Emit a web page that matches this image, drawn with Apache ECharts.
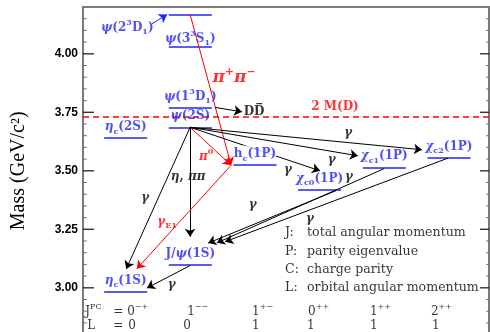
<!DOCTYPE html>
<html><head><meta charset="utf-8">
<script src="https://cdn.jsdelivr.net/npm/echarts@6/dist/echarts.min.js"></script>
<style>html,body{margin:0;padding:0;background:#fff}#c{width:490px;height:332px}</style>
</head><body><div id="c"></div>
<script>
// ---------------- DATA ----------------
// quantum-number columns
const jpcBase = ['0', '1', '1', '0', '1', '2'];
const jpcSup = ['\u2212+', '\u2212\u2212', '+\u2212', '++', '++', '++'];
const orbitalL = ['0', '0', '1', '1', '1', '1'];
// charmonium levels (column index, mass in GeV/c^2)
const levelText = [
  '{g|\u03b7}{sub|c}{b|(1S)}',
  '{b|J/}{g|\u03c8}{b|(1S)}',
  '{g|\u03b7}{sub|c}{b|(2S)}',
  '{g|\u03c8}{b|(2S)}',
  '{g|\u03c8}{b|(1}{sup|3}{b|D}{sub|1}{b|)}',
  '{g|\u03c8}{b|(3}{sup|3}{b|S}{sub|1}{b|)}',
  '',
  '{b|h}{sub|c}{b|(1P)}',
  '{g|\u03c7}{sub|c0}{b|(1P)}',
  '{g|\u03c7}{sub|c1}{b|(1P)}',
  '{g|\u03c7}{sub|c2}{b|(1P)}'
];
const levelColumn = [0, 1, 0, 1, 1, 1, 1, 2, 3, 4, 5];
const levelMass = [2.984, 3.097, 3.640, 3.686, 3.771, 4.030, 4.168, 3.525, 3.420, 3.515, 3.556];
// y axis tick labels (major) and minor tick step
const yTicks = [3.00, 3.25, 3.50, 3.75, 4.00];
const yMinorStep = 0.05;
// D Dbar threshold
const threshold2MD = 3.730;
// transitions: start and end [column units, mass]
const transFrom = [
  [0.405, 4.128], [0.997, 4.168], [1.383, 3.771], [0.997, 3.686], [0.997, 3.686],
  [0.997, 3.686], [1.631, 3.524], [0.997, 3.686], [0.997, 3.686], [0.997, 3.686],
  [3.253, 3.415], [3.995, 3.509], [4.985, 3.554], [0.997, 3.095]
];
const transTo = [
  [0.641, 4.168], [1.631, 3.524], [1.800, 3.752], [0.008, 3.080], [0.997, 3.218],
  [1.631, 3.524], [0.173, 3.081], [3.006, 3.500], [3.593, 3.564], [4.583, 3.590],
  [1.275, 3.191], [1.410, 3.192], [1.538, 3.197], [0.328, 2.999]
];
const transKind = ['label', 'had', 'black', 'black', 'black', 'had', 'had', 'black', 'black', 'black', 'black', 'black', 'black', 'black'];
// transition annotations
const annText = [
  '{g|\u03c8}{b|(2}{sup|3}{b|D}{sub|1}{b|)}',
  '{g|\u03c0}{sup|+}{g|\u03c0}{sup|\u2212}',
  '{g|\u03c0}{sup|0}',
  '{g|\u03b7}{b|, }{g|\u03c0\u03c0}',
  '{g|\u03b3}',
  '{g|\u03b3}{sub|E1}',
  '{g|\u03b3}', '{g|\u03b3}', '{g|\u03b3}', '{g|\u03b3}', '{g|\u03b3}', '{g|\u03b3}', '{g|\u03b3}',
  '{b|2 M(D)}',
  '{b|DD\u0305}'
];
const annKind = ['level', 'bigred', 'red', 'black', 'black', 'red', 'black', 'black', 'black', 'black', 'black', 'black', 'black', 'red', 'black'];
const annPos = [
  [0.025, 4.112], [1.677, 3.897], [1.244, 3.560], [0.966, 3.474], [0.301, 3.385], [0.641, 3.282],
  [2.512, 3.504], [3.187, 3.547], [3.444, 3.661], [1.966, 3.355], [3.454, 3.474], [2.852, 3.295], [0.714, 3.013],
  [3.238, 3.774], [1.986, 3.752]
];
const legendKey = ['J:', 'P:', 'C:', 'L:'];
const legendDesc = ['total angular momentum', 'parity eigenvalue', 'charge parity', 'orbital angular momentum'];

// ---------------- LAYOUT / STYLE ----------------
const BLUE = '#2424f0', RED = '#ff0000', AXC = '#7a7a7a';
const FAM = 'DejaVu Serif';
const X_MIN = -0.66, X_MAX = 5.62, Y_TOP = 4.2, Y_LOW = 2.8;
const PX_PER_COL = 64.7, PX_PER_GEV = 234;
function rich(color, size, bold) {
  const w = bold ? 'bold' : 'normal';
  const s2 = Math.round(size * 0.66);
  return {
    b: {fontFamily: FAM, fontWeight: w, fontSize: size, color: color, lineHeight: size + 5},
    g: {fontFamily: FAM, fontWeight: w, fontStyle: 'italic', fontSize: size, color: color, lineHeight: size + 5},
    n: {fontFamily: FAM, fontSize: size, color: color, lineHeight: size + 5},
    sub: {fontFamily: FAM, fontWeight: w, fontSize: s2, color: color, lineHeight: s2 + 2, verticalAlign: 'bottom'},
    sup: {fontFamily: FAM, fontWeight: w, fontSize: s2, color: color, lineHeight: s2 + 2, verticalAlign: 'top'},
    k: {fontFamily: FAM, fontSize: size, color: color, lineHeight: size + 5, width: 22}
  };
}
const HALF = 0.333;          // half width of a level bar (column units)
const LABEL_UP = 0.047;      // level label offset above bar (GeV)
const legendX = 2.465, legendM = [3.235, 3.155, 3.077, 3.000];
const row1M = 2.897, row2M = 2.838;
const jpcX = [0.023, 0.951, 1.955, 2.821, 3.779, 4.722];
const lX = [0.039, 0.889, 1.955, 2.805, 3.779, 4.737];

const levelLines = levelMass.map((m, i) => ({coords: [[levelColumn[i] - HALF, m], [levelColumn[i] + HALF, m]]}));
const transLines = transFrom.map((f, i) => ({
  coords: [f, transTo[i]],
  lineStyle: {color: transKind[i] === 'label' ? BLUE : (transKind[i] === 'had' ? RED : '#000'), width: 1}
}));

// inward tick marks on both frame sides, drawn as thin rect symbols
const tickPts = [];
const nMinor = Math.round((Y_TOP - Y_LOW) / yMinorStep);
for (let k = 1; k < nMinor; k++) {
  const v = +(Y_LOW + k * yMinorStep).toFixed(3);
  const major = yTicks.some(t => Math.abs(t - v) < 1e-6);
  const lenL = major ? 11 : 4, lenR = major ? 9 : 3;
  const col = major ? '#000' : '#555', th = major ? 1.4 : 1;
  tickPts.push({value: [X_MIN + lenL / 2 / PX_PER_COL, v], symbolSize: [lenL, th], itemStyle: {color: col}});
  tickPts.push({value: [X_MAX - lenR / 2 / PX_PER_COL, v], symbolSize: [lenR, th], itemStyle: {color: col}});
}

const textPts = [];
levelText.forEach((t, i) => {
  if (!t) return;
  const up = (i === 5) ? 0.034 : LABEL_UP;
  textPts.push({value: [levelColumn[i], levelMass[i] + up], label: {formatter: t, rich: rich(BLUE, 12, true), position: 'inside',
    backgroundColor: i === 7 ? '#fff' : 'transparent'}});
});
annText.forEach((t, i) => {
  const k = annKind[i];
  const r = k === 'level' ? rich(BLUE, 12, true) : k === 'bigred' ? rich(RED, 17, true) : k === 'red' ? rich(RED, 12, true) : rich('#000', 12, true);
  textPts.push({value: annPos[i], label: {formatter: t, rich: r, position: 'inside'}});
});
legendKey.forEach((k, i) => {
  textPts.push({value: [legendX, legendM[i]], label: {formatter: '{k|' + k + '}{n|' + legendDesc[i] + '}', rich: rich('#000', 12.6, false), position: 'right', distance: 0}});
});
textPts.push({value: [-0.626, row1M], label: {formatter: '{n|J}{sup|PC}', rich: rich('#000', 12, false), position: 'right', distance: 0}});
textPts.push({value: [-0.193, row1M], label: {formatter: '{n|=}', rich: rich('#000', 12, false), position: 'right', distance: 0}});
textPts.push({value: [-0.596, row2M], label: {formatter: '{n|L}', rich: rich('#000', 12, false), position: 'right', distance: 0}});
textPts.push({value: [-0.193, row2M], label: {formatter: '{n|=}', rich: rich('#000', 12, false), position: 'right', distance: 0}});
jpcBase.forEach((b, i) => {
  textPts.push({value: [jpcX[i], row1M], label: {formatter: '{n|' + b + '}{sup|' + jpcSup[i] + '}', rich: rich('#000', 12, false), position: 'right', distance: 0}});
  textPts.push({value: [lX[i], row2M], label: {formatter: '{n|' + orbitalL[i] + '}', rich: rich('#000', 12, false), position: 'right', distance: 0}});
});

const chart = echarts.init(document.getElementById('c'));
chart.setOption({
  animation: false,
  backgroundColor: '#fff',
  grid: {left: 83, right: 1, top: 7, height: (Y_TOP - Y_LOW) * PX_PER_GEV, outerBoundsMode: 'none'},
  xAxis: {type: 'value', min: X_MIN, max: X_MAX, position: 'top',
    axisLine: {show: true, onZero: false, lineStyle: {color: AXC, width: 2}},
    axisTick: {show: false}, axisLabel: {show: false}, splitLine: {show: false}},
  yAxis: [
    {type: 'value', min: Y_LOW, max: Y_TOP, position: 'left', splitLine: {show: false},
      axisLine: {show: true, onZero: false, lineStyle: {color: AXC, width: 2}},
      axisTick: {show: false},
      axisLabel: {show: true, customValues: yTicks, margin: 5, formatter: v => v.toFixed(2),
        fontFamily: 'Liberation Sans', fontSize: 12, fontWeight: 'bold', color: '#000'},
      name: 'Mass (GeV/c\u00b2)', nameLocation: 'middle', nameRotate: 90, nameGap: 54,
      nameTextStyle: {fontFamily: 'Liberation Serif', fontSize: 20, color: '#000'}},
    {type: 'value', min: Y_LOW, max: Y_TOP, position: 'right', splitLine: {show: false},
      axisLine: {show: true, onZero: false, lineStyle: {color: AXC, width: 2}},
      axisTick: {show: false}, axisLabel: {show: false}}
  ],
  series: [
    {type: 'scatter', symbol: 'rect', z: 6, data: tickPts},
    {type: 'lines', coordinateSystem: 'cartesian2d', lineStyle: {color: RED, width: 1.5, type: [6, 4], opacity: 1},
      data: [{coords: [[X_MIN, threshold2MD], [X_MAX, threshold2MD]]}]},
    {type: 'lines', coordinateSystem: 'cartesian2d', lineStyle: {color: BLUE, width: 1.6, opacity: 1}, data: levelLines},
    {type: 'lines', coordinateSystem: 'cartesian2d', symbol: ['none', 'arrow'], symbolSize: 8,
      lineStyle: {width: 1, opacity: 1}, data: transLines},
    {type: 'scatter', symbolSize: 0, z: 5, data: textPts, label: {show: true, padding: 0}}
  ]
});
</script></body></html>
